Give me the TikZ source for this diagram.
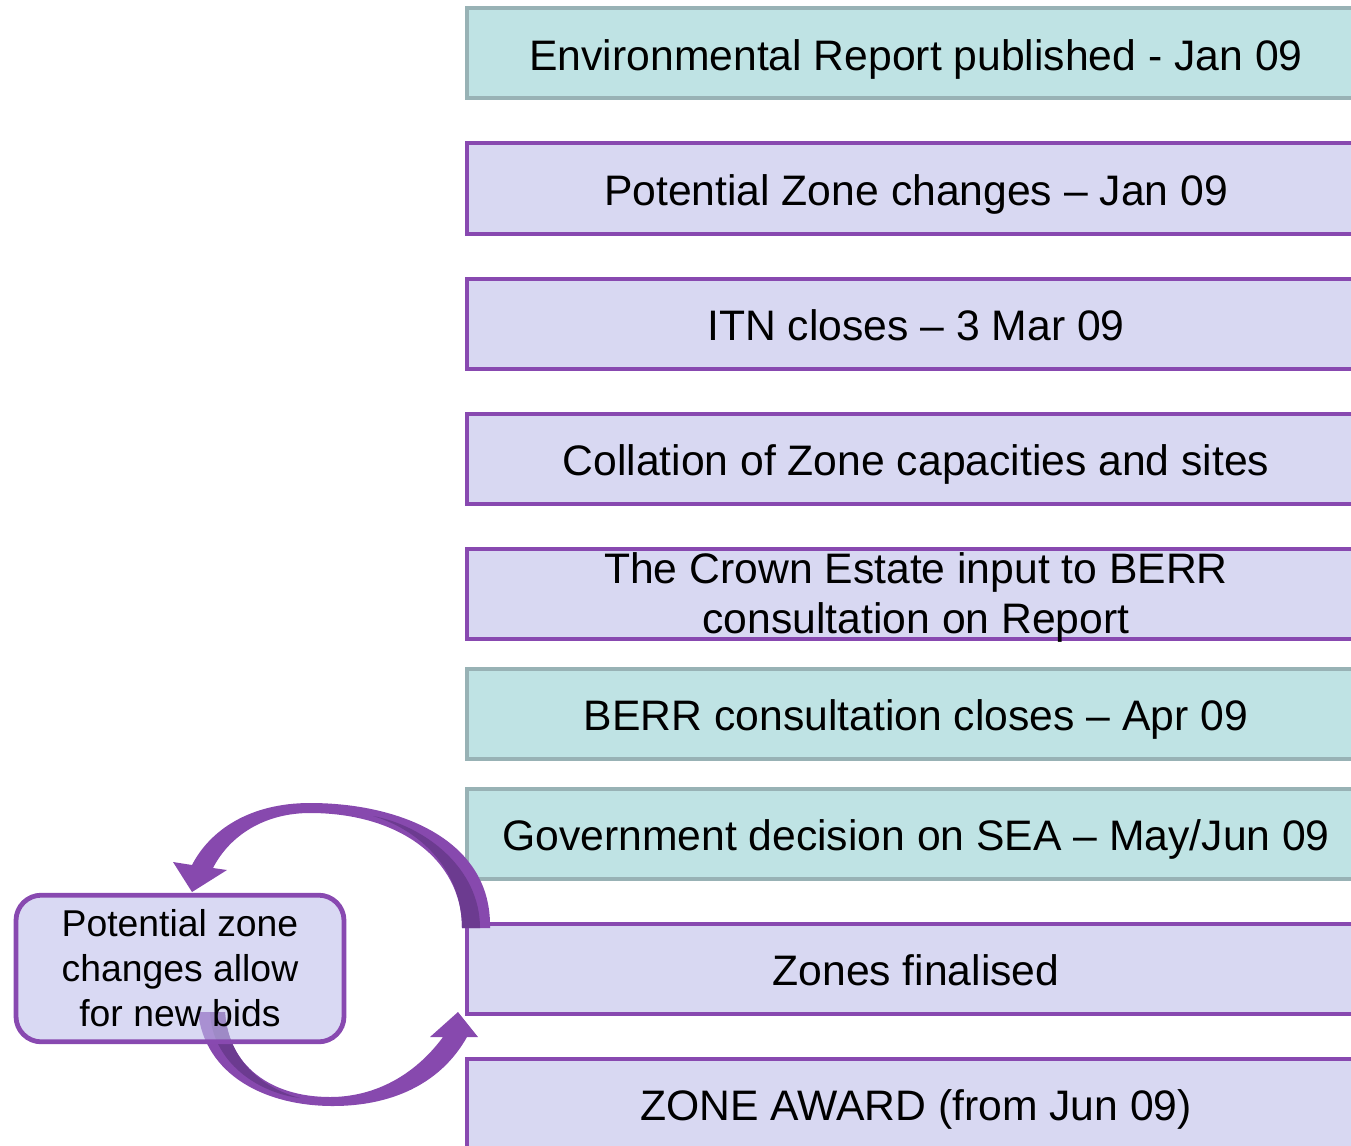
\documentclass[tikz,border=0pt]{standalone}
\usepackage{fontspec}
\setmainfont{Liberation Sans}
\definecolor{stagefill}{HTML}{D8D8F2}
\definecolor{stageline}{HTML}{8849B0}
\definecolor{keyfill}{HTML}{BFE3E4}
\definecolor{keyline}{HTML}{98B2B5}
\definecolor{looparc}{HTML}{8749AE}
\definecolor{looparcdark}{HTML}{6C3B90}
\definecolor{bidfill}{HTML}{C0C0EB}

\begin{document}
\begin{tikzpicture}[x=0.75pt,y=-0.75pt,
  stage/.style={rectangle,draw=stageline,fill=stagefill,line width=3pt,minimum width=673.5pt,
    minimum height=67.5pt,inner sep=0pt,text height=28pt,text depth=2pt,font=\fontsize{32}{37.5}\selectfont},
  key/.style={stage,draw=keyline,fill=keyfill},
  bid/.style={rectangle,rounded corners=19pt,draw=stageline,fill=bidfill,fill opacity=0.6,text opacity=1,
    line width=3.6pt,minimum width=246pt,minimum height=110pt,align=center,font=\fontsize{28}{33.75}\selectfont}]
\useasboundingbox (0,0) rectangle (1351,1145);

% ---- timeline
\node[key]   (report)  at (916,53.5)  {Environmental Report published - Jan 09};
\node[stage] (changes) at (916,188.5) {Potential Zone changes – Jan 09};
\node[stage] (itn)     at (916,323.5) {ITN closes – 3 Mar 09};
\node[stage] (collate) at (916,458.5) {Collation of Zone capacities and sites};
\node[stage] (crown)   at (916,593.5) {\raisebox{3pt}[0pt][0pt]{\begin{tabular}{@{}c@{}}The Crown Estate input to BERR\\consultation on Report\end{tabular}}};
\node[key]   (berr)    at (916,713.5) {BERR consultation closes – Apr 09};
\node[key]   (sea)     at (916,833.5) {Government decision on SEA – May/Jun 09};
\node[stage] (final)   at (916,968.5) {Zones finalised};
\node[stage] (award)   at (916,1103.5) {ZONE AWARD (from Jun 09)};

% ---- loop back to the bids
\fill[looparc] (490,928) .. controls (492,840) and (400,803) .. (310,803)
  .. controls (250,803) and (210,830) .. (192,865)
  -- (173,862) -- (192,892) -- (227,870) -- (213,868)
  .. controls (230,835) and (265,813) .. (310,813)
  .. controls (400,813) and (462,860) .. (462,928) -- cycle;
\fill[looparcdark] (462,928) .. controls (462,870) and (420,830) .. (373,816)
  .. controls (425,826) and (480,868) .. (480,928) -- cycle;

\fill[looparc] (198,1012) .. controls (205,1075) and (265,1106) .. (333,1106)
  .. controls (390,1106) and (440,1085) .. (467,1037)
  -- (478,1037) -- (458,1012) -- (430,1037) -- (443,1037)
  .. controls (415,1075) and (375,1097) .. (330,1097)
  .. controls (270,1097) and (228,1065) .. (225,1012) -- cycle;
\fill[looparcdark] (225,1012) .. controls (228,1060) and (262,1088) .. (300,1098)
  .. controls (258,1093) and (212,1062) .. (210,1012) -- cycle;

\node[bid] (bids) at (180,968.5) {Potential zone\\changes allow\\for new bids};
\end{tikzpicture}
\end{document}
